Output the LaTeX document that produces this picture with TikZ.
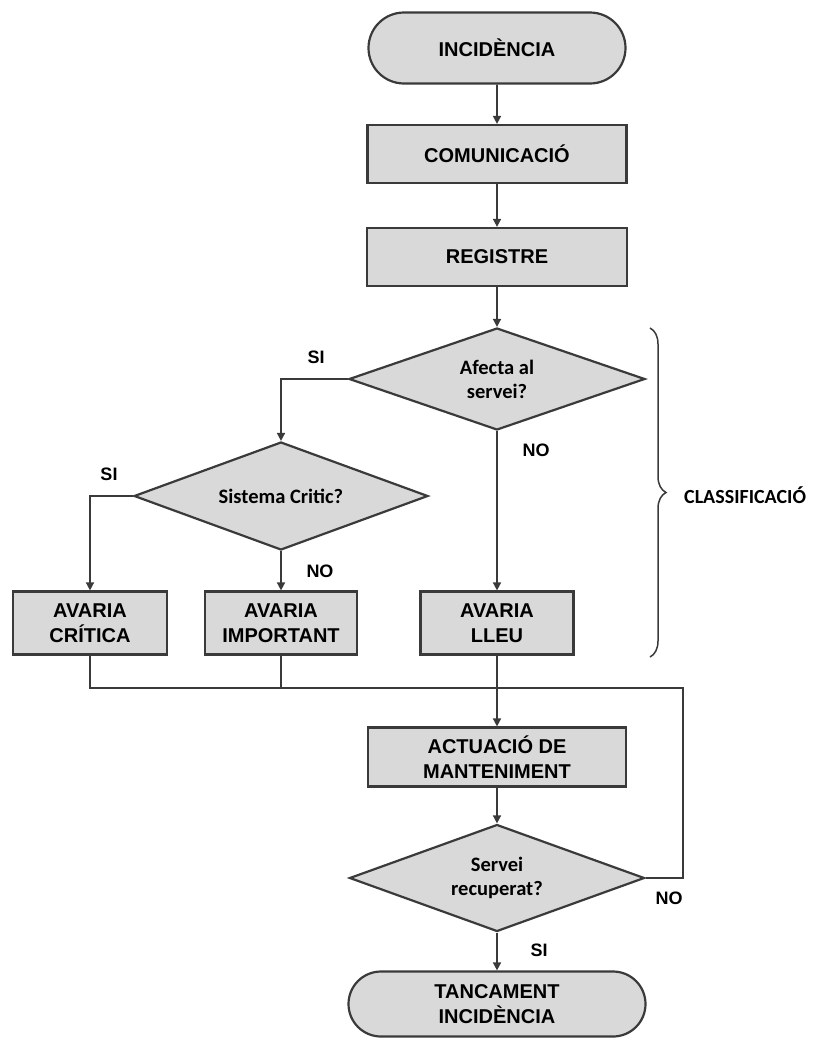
\documentclass[tikz,border=0pt]{standalone}
\usepackage{fontspec}
\setmainfont{Liberation Sans}
\newfontfamily\calibrifont{Carlito}
\usepackage{tikz}
\usetikzlibrary{arrows.meta}
\usetikzlibrary{shapes.geometric}
\usetikzlibrary{shapes.misc}
\usetikzlibrary{decorations.pathreplacing}
\definecolor{flowgray}{HTML}{D9D9D9}
\definecolor{flowdark}{HTML}{3A3A3A}
\tikzstyle{flow_step} = [rectangle, draw = flowdark, fill = flowgray, line width = 2.2pt, align = center, inner sep = 0, font = \bfseries\fontsize{20}{25}\selectfont]
\tikzstyle{flow_term} = [flow_step, rounded rectangle]
\tikzstyle{flow_choice} = [diamond, aspect = 2.8, draw = flowdark, fill = flowgray, line width = 2.2pt, align = center, inner sep = 1pt, font = \calibrifont\bfseries\fontsize{20.5}{24}\selectfont]
\tikzstyle{flow_line} = [draw = flowdark, line width = 1.6pt]
\tikzstyle{flow_arrow} = [flow_line, -{Triangle[length = 8pt, width = 8pt]}]
\tikzstyle{flow_answer} = [inner sep = 0, font = \bfseries\fontsize{18}{21}\selectfont]

\begin{document}
\begin{tikzpicture}[x = 1pt, y = -1pt]
        \useasboundingbox (0,0) rectangle (816,1039);

        % main column
        \node [flow_term, minimum width = 257pt, minimum height = 71pt] (incidencia) at (497,48) {INCIDÈNCIA};
        \node [flow_step, minimum width = 259pt, minimum height = 58pt] (comunicacio) at (497,154) {COMUNICACIÓ};
        \node [flow_step, minimum width = 260pt, minimum height = 58pt] (registre) at (497,257) {REGISTRE};
        \node [flow_choice, minimum width = 296pt, minimum height = 102pt] (afecta) at (497,379) {Afecta al\\servei?};
        \node [flow_choice, minimum width = 294pt, minimum height = 108pt] (sistema) at (281,496) {Sistema Critic?};

        % classes
        \node [flow_step, minimum width = 154pt, minimum height = 63pt] (critica) at (90,623) {AVARIA\\CRÍTICA};
        \node [flow_step, minimum width = 152pt, minimum height = 63pt] (important) at (281,623) {AVARIA\\IMPORTANT};
        \node [flow_step, minimum width = 153pt, minimum height = 63pt] (lleu) at (497,623) {AVARIA\\LLEU};

        \node [flow_step, minimum width = 258pt, minimum height = 59pt] (actuacio) at (497,757) {ACTUACIÓ DE\\MANTENIMENT};
        \node [flow_choice, minimum width = 295pt, minimum height = 107pt] (recuperat) at (497,878) {Servei\\recuperat?};
        \node [flow_term, minimum width = 297pt, minimum height = 65pt] (tancament) at (497,1004) {TANCAMENT\\INCIDÈNCIA};

        \coordinate (merge) at (497,688);
        \coordinate (retorn) at (683,688);

        % connectors
        \draw [flow_arrow] (incidencia) -- (comunicacio);
        \draw [flow_arrow] (comunicacio) -- (registre);
        \draw [flow_arrow] (registre) -- (afecta);
        \draw [flow_arrow] (afecta.west) -| (sistema.north);
        \draw [flow_arrow] (afecta.south) -- (lleu.north);
        \draw [flow_arrow] (sistema.west) -| (critica.north);
        \draw [flow_arrow] (sistema.south) -- (important.north);
        \draw [flow_line] (critica.south) |- (merge);
        \draw [flow_line] (important.south) |- (merge);
        \draw [flow_arrow] (lleu.south) -- (actuacio.north);
        \draw [flow_line] (recuperat.east) -| (retorn) -- (merge);
        \draw [flow_arrow] (actuacio) -- (recuperat);
        \draw [flow_arrow] (recuperat.south) -- (tancament.north);

        % answers
        \node [flow_answer] (si_afecta) at (316,357) {SI};
        \node [flow_answer] (no_afecta) at (536,450) {NO};
        \node [flow_answer] (si_sistema) at (109,474) {SI};
        \node [flow_answer] (no_sistema) at (320,571) {NO};
        \node [flow_answer] (no_servei) at (669,898) {NO};
        \node [flow_answer] (si_servei) at (539,950) {SI};

        % classification brace
        \draw [draw = flowdark, line width = 1.5pt, decorate, decoration = {brace, amplitude = 16pt}] (650,328) -- (650,657);
        \node [anchor = west, inner sep = 0, font = \calibrifont\bfseries\fontsize{20}{24}\selectfont] (classificacio) at (684,495) {CLASSIFICACIÓ};
\end{tikzpicture}
\end{document}
